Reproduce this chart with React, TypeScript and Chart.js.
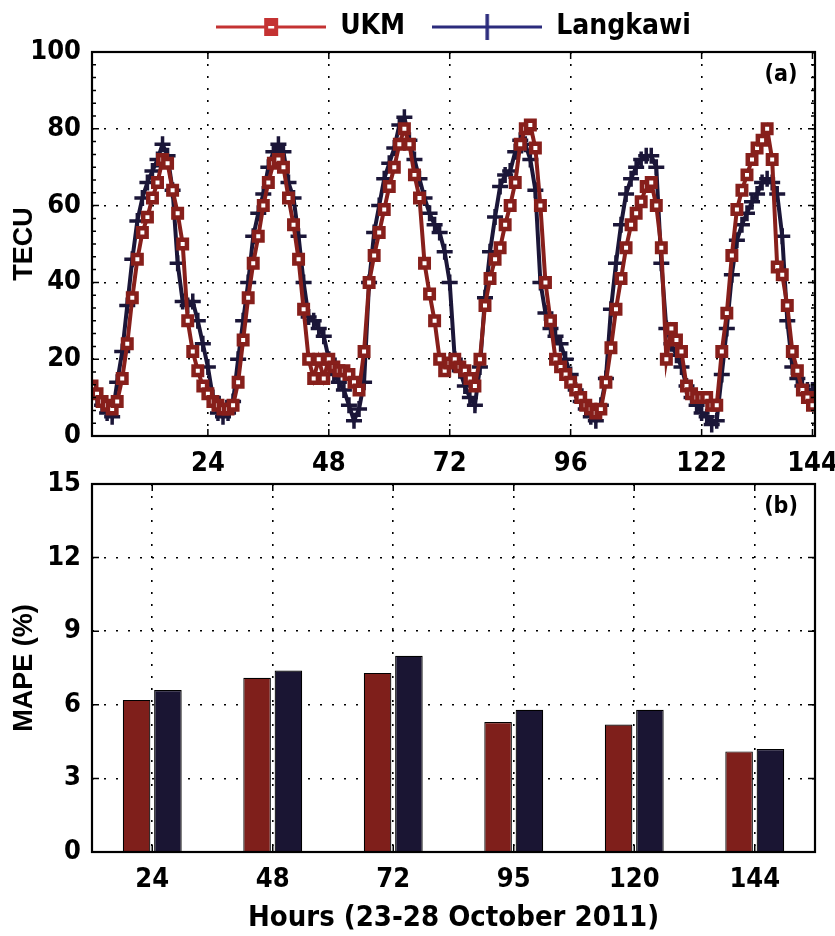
import React, { useEffect, useRef } from 'react';
import { Chart, registerables } from 'chart.js';

Chart.register(...registerables);

// ---------- data ----------
const UKM_TECU = [
  13, 11, 9, 8, 7, 9, 15, 24, 36, 46, 53, 57,
  62, 66, 72, 71, 64, 58, 50, 30, 22, 17, 13, 11,
  9, 8, 7, 7, 8, 14, 25, 36, 45, 52, 60, 66,
  71, 72, 70, 62, 55, 46, 33, 20, 15, 20, 15, 20,
  18, 17, 17, 16, 14, 12, 22, 40, 47, 53, 59, 65,
  70, 76, 80, 76, 68, 62, 45, 37, 30, 20, 17, 19,
  20, 18, 17, 15, 13, 20, 34, 41, 46, 49, 55, 60,
  66, 76, 80, 81, 75, 60, 40, 30, 20, 18, 16, 14,
  12, 10, 8, 7, 6, 7, 14, 23, 33, 41, 49, 55,
  58, 61, 65, 66, 60, 49, 20, 28, 25, 22, 13, 11,
  10, 10, 10, 8, 8, 22, 32, 47, 59, 64, 68, 72,
  75, 77, 80, 72, 44, 42, 34, 22, 17, 12, 10, 8,
];

const LANGKAWI_TECU = [
  12, 10, 8, 6, 5, 14, 22, 34, 46, 56, 62, 66,
  69, 72, 76, 73, 64, 45, 35, 34, 35, 30, 24, 18,
  10, 6, 5, 6, 9, 20, 30, 40, 52, 58, 63, 70,
  74, 76, 74, 66, 62, 52, 40, 31, 30, 28, 26, 20,
  16, 14, 12, 8, 4, 7, 14, 40, 53, 60, 67, 71,
  75, 81, 83, 77, 72, 67, 62, 58, 55, 53, 48, 40,
  20, 17, 13, 10, 8, 18, 36, 48, 57, 65, 68, 69,
  74, 77, 76, 72, 64, 40, 32, 28, 26, 24, 20, 16,
  12, 9, 7, 5, 4, 8, 15, 33, 45, 55, 63, 67,
  70, 72, 73, 73, 70, 45, 28, 24, 21, 18, 13, 10,
  8, 6, 5, 3, 4, 16, 28, 42, 51, 55, 58, 61,
  63, 66, 67, 66, 63, 52, 30, 18, 15, 13, 12, 12,
];

const TOP_X_TICKS = [24, 48, 72, 96, 122, 144];
const TOP_Y_TICKS = [0, 20, 40, 60, 80, 100];

const MAPE_HOURS = ['24', '48', '72', '95', '120', '144'];
const UKM_MAPE = [6.2, 7.1, 7.3, 5.3, 5.2, 4.1];
const LANGKAWI_MAPE = [6.6, 7.4, 8.0, 5.8, 5.8, 4.2];
const MAPE_Y_TICKS = [0, 3, 6, 9, 12, 15];

// ---------- style ----------
const RED = '#871f1b';
const NAVY = '#1b1638';
const LEGEND_RED = '#c43232';
const LEGEND_NAVY = '#2b2b7c';
const BAR_RED = '#7f1f1b';
const BAR_NAVY = '#1a1533';
const NARROW = "'Liberation Sans Narrow', 'Arial Narrow', 'DejaVu Sans Condensed', sans-serif";
const WIDE = "'Liberation Sans', Arial, sans-serif";

const tickFont = { family: NARROW, size: 27, weight: 'bold' as const };

function legendIcon(color: string, kind: 'rect' | 'plus') {
  const c = document.createElement('canvas');
  c.width = 110;
  c.height = 30;
  const g = c.getContext('2d')!;
  g.strokeStyle = color;
  g.lineWidth = 3;
  g.beginPath();
  g.moveTo(0, 15);
  g.lineTo(110, 15);
  g.stroke();
  if (kind === 'rect') {
    g.fillStyle = color;
    g.fillRect(48, 6, 14, 18);
    g.fillStyle = '#fff';
    g.fillRect(52, 14, 6, 2.5);
  } else {
    g.lineWidth = 3.5;
    g.beginPath();
    g.moveTo(55, 2);
    g.lineTo(55, 28);
    g.stroke();
  }
  return c;
}

const framePlugin = {
  id: 'frame',
  afterDatasetsDraw(chart: any) {
    const o = chart.options.plugins.frame;
    if (!o) return;
    const { ctx, chartArea: a } = chart;
    const xs = chart.scales.x;
    const ys = chart.scales.y;
    ctx.save();
    ctx.strokeStyle = '#000';
    ctx.lineWidth = 1.5;
    ctx.beginPath();
    (o.yMajor || []).forEach((v: number) => {
      const p = ys.getPixelForValue(v);
      ctx.moveTo(a.left, p); ctx.lineTo(a.left + 7, p);
      ctx.moveTo(a.right, p); ctx.lineTo(a.right - 7, p);
    });
    if (o.yMinorStep) {
      for (let v = ys.min; v <= ys.max + 1e-6; v += o.yMinorStep) {
        const p = ys.getPixelForValue(v);
        ctx.moveTo(a.left, p); ctx.lineTo(a.left + 4, p);
        ctx.moveTo(a.right, p); ctx.lineTo(a.right - 4, p);
      }
    }
    xs.ticks.forEach((t: any, i: number) => {
      const p = xs.getPixelForTick(i);
      ctx.moveTo(p, a.bottom); ctx.lineTo(p, a.bottom - 7);
      ctx.moveTo(p, a.top); ctx.lineTo(p, a.top + 7);
    });
    ctx.stroke();
    ctx.lineWidth = 2.2;
    ctx.strokeRect(a.left, a.top, a.right - a.left, a.bottom - a.top);
    if (o.tag) {
      ctx.fillStyle = '#000';
      ctx.font = `bold 23px ${NARROW}`;
      ctx.textAlign = 'center';
      ctx.textBaseline = 'middle';
      ctx.fillText(o.tag, a.right - 34, a.top + 23);
    }
    ctx.restore();
  },
};

const dotted = { display: false, dash: [2, 10] };
const gridOpts = { color: '#000', lineWidth: 1.6, drawTicks: false };

export default function App() {
  const topRef = useRef<HTMLCanvasElement>(null);
  const botRef = useRef<HTMLCanvasElement>(null);

  useEffect(() => {
    const ukmIcon = legendIcon(LEGEND_RED, 'rect');
    const lkIcon = legendIcon(LEGEND_NAVY, 'plus');

    const top = new Chart(topRef.current!, {
      type: 'line',
      data: {
        datasets: [
          {
            label: 'UKM',
            data: UKM_TECU.map((v, i) => ({ x: i + 1, y: v })),
            borderColor: RED,
            borderWidth: 4,
            pointStyle: 'rect',
            pointRadius: 6,
            pointBorderWidth: 4.5,
            pointBorderColor: RED,
            pointBackgroundColor: '#ffffff',
            tension: 0,
          },
          {
            label: 'Langkawi',
            data: LANGKAWI_TECU.map((v, i) => ({ x: i + 1, y: v })),
            borderColor: NAVY,
            borderWidth: 4,
            pointStyle: 'cross',
            pointRadius: 8,
            pointBorderWidth: 3.5,
            pointBorderColor: NAVY,
            pointBackgroundColor: NAVY,
            tension: 0,
          },
        ],
      },
      options: {
        responsive: false,
        animation: false,
        layout: { padding: { left: 0, right: 20, top: -14, bottom: 0 } },
        plugins: {
          tooltip: { enabled: false },
          legend: {
            position: 'top',
            fullSize: false,
            labels: {
              usePointStyle: true,
              pointStyleWidth: 110,
              padding: 27,
              color: '#000',
              font: { family: NARROW, size: 28, weight: 'bold' },
              generateLabels: (chart: any) => {
                const items = Chart.defaults.plugins.legend.labels.generateLabels(chart);
                items[0].pointStyle = ukmIcon;
                items[1].pointStyle = lkIcon;
                return items;
              },
            },
          },
          frame: { yMajor: TOP_Y_TICKS, yMinorStep: 10 / 3, tag: '(a)' },
        } as any,
        scales: {
          x: {
            type: 'linear',
            min: 1,
            max: 144.5,
            afterBuildTicks: (s: any) => { s.ticks = TOP_X_TICKS.map((v) => ({ value: v })); },
            ticks: { font: tickFont, color: '#000', padding: 12, autoSkip: false, maxRotation: 0 },
            grid: gridOpts,
            border: dotted,
            afterFit: (s: any) => { s.height = 44; s.paddingLeft = 0; s.paddingRight = 0; },
          },
          xTop: {
            type: 'linear',
            position: 'top',
            display: true,
            ticks: { display: false },
            grid: { display: false, drawTicks: false },
            border: { display: false },
            afterFit: (s: any) => { s.height = 1; s.paddingLeft = 0; s.paddingRight = 0; },
          },
          y: {
            min: 0,
            max: 100,
            afterBuildTicks: (s: any) => { s.ticks = TOP_Y_TICKS.map((v) => ({ value: v })); },
            ticks: { font: tickFont, color: '#000', padding: 11 },
            grid: gridOpts,
            border: dotted,
            title: {
              display: true,
              text: 'TECU',
              color: '#000',
              font: { family: WIDE, size: 27, weight: 'bold' },
              padding: { top: 8, bottom: 0 },
            },
            afterFit: (s: any) => { s.width = 92; },
          },
        },
      },
      plugins: [framePlugin],
    } as any);

    const bot = new Chart(botRef.current!, {
      type: 'bar',
      data: {
        labels: MAPE_HOURS,
        datasets: [
          {
            label: 'UKM',
            data: UKM_MAPE,
            backgroundColor: BAR_RED,
            borderColor: '#000',
            borderWidth: 1.2,
            categoryPercentage: 0.52,
            barPercentage: 0.88,
          },
          {
            label: 'Langkawi',
            data: LANGKAWI_MAPE,
            backgroundColor: BAR_NAVY,
            borderColor: '#000',
            borderWidth: 1.2,
            categoryPercentage: 0.52,
            barPercentage: 0.88,
          },
        ],
      },
      options: {
        responsive: false,
        animation: false,
        layout: { padding: { left: 0, right: 20, top: 44, bottom: 0 } },
        plugins: {
          tooltip: { enabled: false },
          legend: { display: false },
          frame: { yMajor: MAPE_Y_TICKS, tag: '(b)' },
        } as any,
        scales: {
          x: {
            offset: true,
            grid: { ...gridOpts, offset: false },
            border: dotted,
            ticks: { font: tickFont, color: '#000', padding: 12 },
            title: {
              display: true,
              text: 'Hours (23-28 October 2011)',
              color: '#000',
              font: { family: NARROW, size: 29, weight: 'bold' },
              padding: { top: 4, bottom: 0 },
            },
            afterFit: (s: any) => { s.height = 84; s.paddingLeft = 0; s.paddingRight = 0; },
          },
          y: {
            min: 0,
            max: 15,
            afterBuildTicks: (s: any) => { s.ticks = MAPE_Y_TICKS.map((v) => ({ value: v })); },
            ticks: { font: tickFont, color: '#000', padding: 11 },
            grid: gridOpts,
            border: dotted,
            title: {
              display: true,
              text: 'MAPE (%)',
              color: '#000',
              font: { family: WIDE, size: 27, weight: 'bold' },
              padding: { top: 8, bottom: 0 },
            },
            afterFit: (s: any) => { s.width = 92; },
          },
        },
      },
      plugins: [framePlugin],
    } as any);

    return () => {
      top.destroy();
      bot.destroy();
    };
  }, []);

  return (
    <div style={{ position: 'fixed', left: 0, top: 0, width: 835, height: 936, background: '#fff' }}>
      <canvas ref={topRef} width={835} height={480} style={{ position: 'absolute', left: 0, top: 0 }} />
      <canvas ref={botRef} width={835} height={496} style={{ position: 'absolute', left: 0, top: 440 }} />
    </div>
  );
}
